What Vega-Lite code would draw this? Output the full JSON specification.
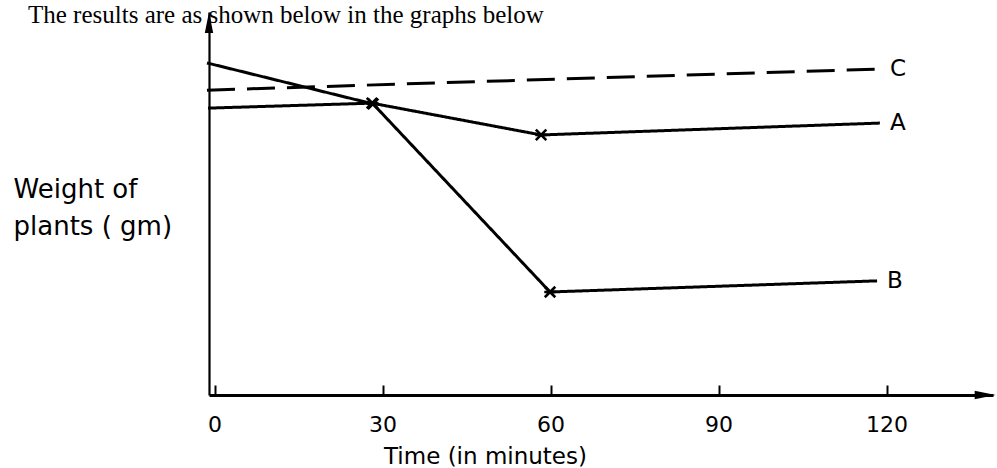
{
  "$schema": "https://vega.github.io/schema/vega-lite/v6.json",
  "autosize": {"type": "none"},
  "width": 784,
  "height": 383,
  "padding": {"left": 209, "top": 12, "right": 4, "bottom": 73},
  "background": "white",
  "config": {"view": {"stroke": null}},
  "title": {
    "text": "The results are as shown below in the graphs below",
    "anchor": "start",
    "frame": "group",
    "baseline": "alphabetic",
    "offset": 3,
    "dx": -181,
    "dy": 39,
    "font": "Liberation Serif",
    "fontSize": 25,
    "fontWeight": "normal",
    "color": "black"
  },
  "datasets": {
    "curves": [
      {"series": "A", "t": -1.18, "w": 74.9},
      {"series": "A", "t": 28.1, "w": 76.2},
      {"series": "A", "t": 58.3, "w": 67.9},
      {"series": "A", "t": 118.8, "w": 71.0},
      {"series": "B", "t": -1.36, "w": 86.7},
      {"series": "B", "t": 28.3, "w": 76.0},
      {"series": "B", "t": 59.9, "w": 26.9},
      {"series": "B", "t": 118.3, "w": 29.8},
      {"series": "C", "t": -1.36, "w": 79.6},
      {"series": "C", "t": 118.8, "w": 85.1}
    ],
    "arrows": [
      {"dir": "up", "t": -1, "w": 97.26},
      {"dir": "right", "t": 137.6, "w": 0}
    ]
  },
  "layer": [
    {
      "data": {"name": "curves"},
      "mark": {"type": "line", "color": "black", "strokeWidth": 3},
      "encoding": {
        "x": {
          "field": "t", "type": "quantitative",
          "scale": {"domain": [-1, 139], "nice": false, "zero": false},
          "axis": {
            "values": [0, 30, 60, 90, 120],
            "title": "Time (in minutes)",
            "titleFont": "DejaVu Sans",
            "titleFontSize": 23,
            "titleFontWeight": "normal",
            "titleColor": "black",
            "titleX": 276,
            "titleY": 50,
            "titleAlign": "center",
            "titleBaseline": "top",
            "labelFont": "DejaVu Sans",
            "labelFontSize": 22,
            "labelColor": "black",
            "labelPadding": 29,
            "labelFlush": false,
            "domainColor": "black",
            "domainWidth": 2.8,
            "tickColor": "black",
            "tickWidth": 2,
            "tickSize": -10,
            "grid": false
          }
        },
        "y": {
          "field": "w", "type": "quantitative",
          "scale": {"domain": [0, 100], "nice": false, "zero": false},
          "axis": {
            "title": ["Weight of", "plants ( gm)"],
            "titleFont": "DejaVu Sans",
            "titleFontSize": 26,
            "titleFontWeight": "normal",
            "titleColor": "black",
            "titleAngle": 0,
            "titleAlign": "left",
            "titleBaseline": "top",
            "titleX": -196,
            "titleY": 164,
            "titleLineHeight": 37,
            "labels": false,
            "ticks": false,
            "grid": false,
            "domainColor": "black",
            "domainWidth": 2.2
          }
        },
        "detail": {"field": "series"},
        "strokeDash": {
          "field": "series", "type": "nominal",
          "scale": {"domain": ["A", "B", "C"], "range": [[1, 0], [1, 0], [28, 12]]},
          "legend": null
        }
      }
    },
    {
      "data": {"name": "curves"},
      "transform": [{"filter": "datum.series != 'C' && datum.t > 10 && datum.t < 100"}],
      "mark": {"type": "point", "shape": "M-1,-1L1,1M-1,1L1,-1M-1.1,0L1.1,0", "filled": false, "color": "black", "strokeWidth": 2.6, "size": 110, "opacity": 1},
      "encoding": {
        "x": {"field": "t", "type": "quantitative"},
        "y": {"field": "w", "type": "quantitative"}
      }
    },
    {
      "data": {"name": "curves"},
      "transform": [
        {"joinaggregate": [{"op": "max", "field": "t", "as": "tmax"}], "groupby": ["series"]},
        {"filter": "datum.t == datum.tmax"}
      ],
      "mark": {"type": "text", "align": "left", "baseline": "middle", "dx": 10, "font": "DejaVu Sans", "fontSize": 23, "color": "black"},
      "encoding": {
        "x": {"field": "t", "type": "quantitative"},
        "y": {"field": "w", "type": "quantitative"},
        "text": {"field": "series"}
      }
    },
    {
      "data": {"name": "arrows"},
      "mark": {"type": "point", "filled": true, "color": "black", "size": 441, "opacity": 1},
      "encoding": {
        "x": {"field": "t", "type": "quantitative"},
        "y": {"field": "w", "type": "quantitative"},
        "shape": {
          "field": "dir", "type": "nominal",
          "scale": {"domain": ["up", "right"], "range": ["M0,-1L0.4,1L-0.4,1Z", "M1,0L-1,0.4L-1,-0.4Z"]},
          "legend": null
        }
      }
    }
  ]
}
